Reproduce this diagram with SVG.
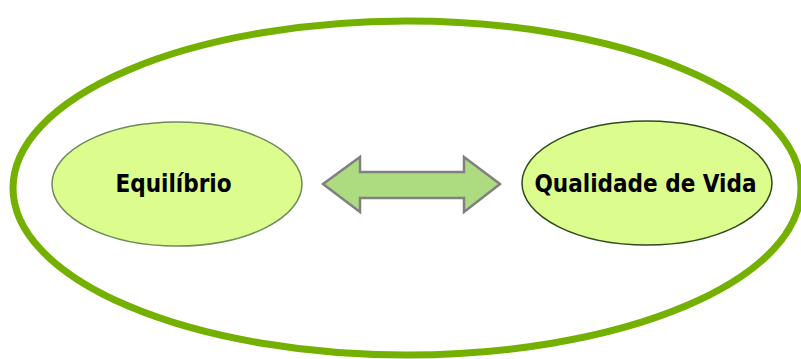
<svg xmlns="http://www.w3.org/2000/svg" width="801" height="359" viewBox="0 0 801 359">
<style>
.node{fill:#dcfc8e;}
.lbl{font-family:"DejaVu Sans Condensed","DejaVu Sans",Verdana,sans-serif;font-stretch:condensed;font-weight:bold;font-size:24px;fill:#000;text-anchor:middle;}
</style>
<defs>
<filter id="soft" x="-5%" y="-5%" width="110%" height="110%"><feGaussianBlur stdDeviation="0.7"/></filter>
</defs>
<rect width="801" height="359" fill="#fff"/>
<g id="outer">
<ellipse cx="407" cy="188" rx="394" ry="167" fill="none" stroke="#74b000" stroke-width="7"/>
</g>
<g id="equilibrio">
<ellipse cx="177" cy="184" rx="125" ry="62" class="node" stroke="#6f8a5a" stroke-width="1.5" filter="url(#soft)"/>
<text x="173.5" y="192" class="lbl">Equilíbrio</text>
</g>
<g id="qualidade">
<ellipse cx="647" cy="183" rx="125" ry="62" class="node" stroke="#2f4a1c" stroke-width="1.5"/>
<text x="645.5" y="192" class="lbl">Qualidade de Vida</text>
</g>
<g id="connectors">
<path d="M323,184 L360,157 L360,172 L464,172 L464,157 L500,184 L464,212 L464,198 L360,198 L360,212 Z" fill="#addc80" stroke="#808080" stroke-width="2.5" stroke-linejoin="miter"/>
</g>
</svg>
